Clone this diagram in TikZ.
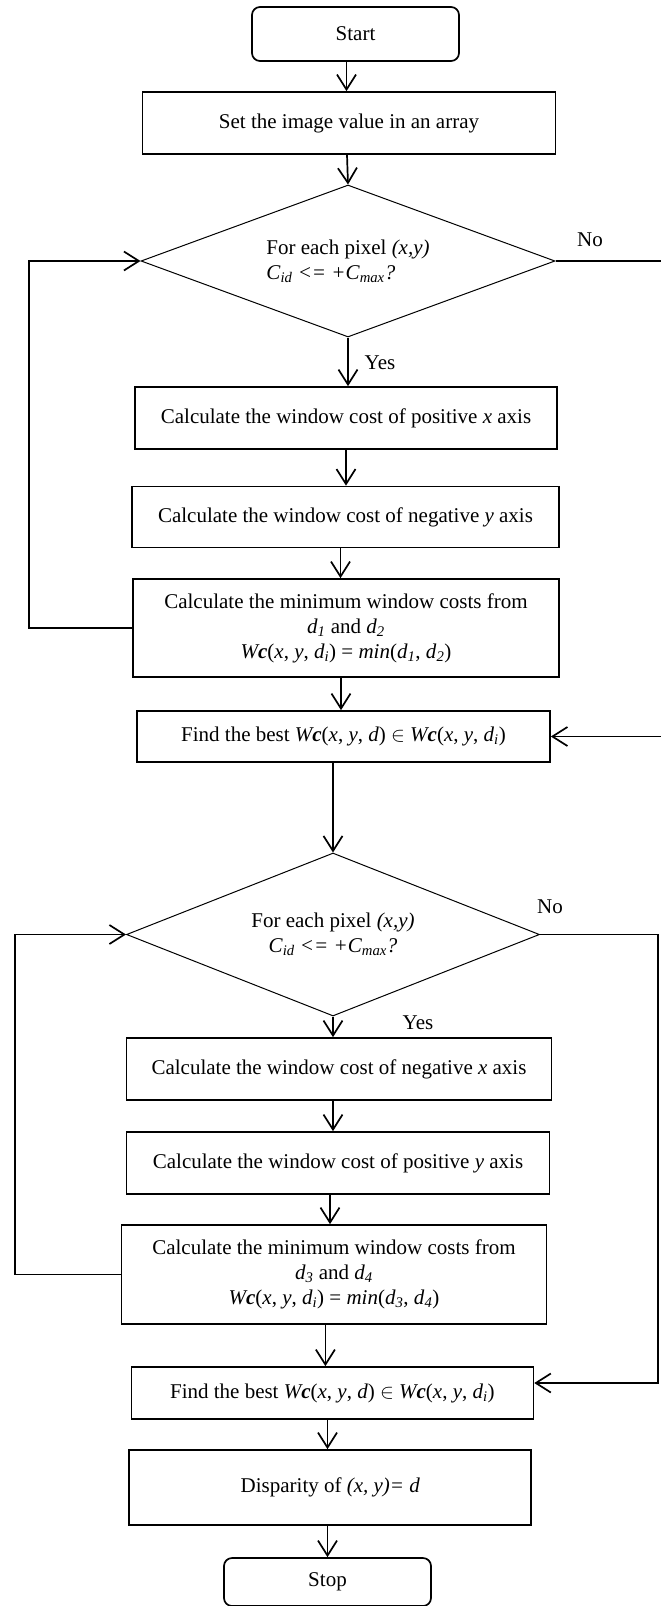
\documentclass[tikz,border=0pt]{standalone}
\usepackage{fontspec}
\setmainfont{Liberation Serif}
\usetikzlibrary{shapes.geometric,arrows.meta}

\begin{document}
\begin{tikzpicture}[
  x = 1pt,
  y = -1pt,
  font = \fontsize{21}{25}\selectfont,
  box/.style = {
    draw,
    rectangle,
    line width = 1.7pt,
    align = center,
    inner sep = 0pt,
  },
  term/.style = {
    box,
    rounded corners = 8pt,
  },
  decision/.style = {
    draw,
    diamond,
    line width = 1pt,
    aspect = 2.7,
    inner sep = 0pt,
  },
  line/.style = {line width = 1.7pt},
  >={Straight Barb[length=15pt,width=19pt]},
]

  \useasboundingbox (0,0) rectangle (661,1606);

  % first pass
  \node[term, minimum width=207pt, minimum height=54pt] (start) at (355.5,34) {Start};
  \node[box, minimum width=413pt, minimum height=62pt] (setarr) at (349,123) {Set the image value in an array};
  \node[decision, minimum width=414pt, minimum height=152pt, align=left] (dec1) at (348,261)
    {For each pixel \textit{(x,y)}\\\textit{C}\textsubscript{\textit{id}} \textit{<= +C}\textsubscript{\textit{max}}\textit{?}};
  \node (no1) at (590,240) {No};
  \node (yes1) at (380,363) {Yes};
  \node[box, minimum width=422pt, minimum height=62pt] (posx) at (346,418) {Calculate the window cost of positive \textit{x} axis};
  \node[box, minimum width=427pt, minimum height=61pt] (negy) at (345.5,517) {Calculate the window cost of negative \textit{y} axis};
  \node[box, minimum width=426pt, minimum height=98pt] (min1) at (346,628)
    {Calculate the minimum window costs from\\
     \textit{d}\textsubscript{\textit{1}} and \textit{d}\textsubscript{\textit{2}}\\
     \textit{W\textbf{c}}(\textit{x}, \textit{y}, \textit{d}\textsubscript{\textit{i}}) = \textit{min}(\textit{d}\textsubscript{\textit{1}}, \textit{d}\textsubscript{\textit{2}})};
  \node[box, minimum width=413pt, minimum height=51pt] (find1) at (343.5,736.5)
    {Find the best \textit{W\textbf{c}}(\textit{x}, \textit{y}, \textit{d}) $\in$ \textit{W\textbf{c}}(\textit{x}, \textit{y}, \textit{d}\textsubscript{\textit{i}})};

  % second pass
  \node[decision, minimum width=413pt, minimum height=163pt, align=center] (dec2) at (333,934.5)
    {For each pixel \textit{(x,y)}\\\textit{C}\textsubscript{\textit{id}} \textit{<= +C}\textsubscript{\textit{max}}\textit{?}};
  \node (no2) at (550,907) {No};
  \node (yes2) at (418,1023) {Yes};
  \node[box, minimum width=425pt, minimum height=62pt] (negx) at (339,1069) {Calculate the window cost of negative \textit{x} axis};
  \node[box, minimum width=423pt, minimum height=62pt] (posy) at (338,1163) {Calculate the window cost of positive \textit{y} axis};
  \node[box, minimum width=425pt, minimum height=99pt] (min2) at (334,1274.5)
    {Calculate the minimum window costs from\\
     \textit{d}\textsubscript{\textit{3}} and \textit{d}\textsubscript{\textit{4}}\\
     \textit{W\textbf{c}}(\textit{x}, \textit{y}, \textit{d}\textsubscript{\textit{i}}) = \textit{min}(\textit{d}\textsubscript{\textit{3}}, \textit{d}\textsubscript{\textit{4}})};
  \node[box, minimum width=402pt, minimum height=52pt] (find2) at (332.4,1393)
    {Find the best \textit{W\textbf{c}}(\textit{x}, \textit{y}, \textit{d}) $\in$ \textit{W\textbf{c}}(\textit{x}, \textit{y}, \textit{d}\textsubscript{\textit{i}})};
  \node[box, minimum width=402pt, minimum height=75pt] (disp) at (330.3,1487.5) {Disparity of \textit{(x, y)= d}};
  \node[term, minimum width=207pt, minimum height=48pt] (stop) at (327.5,1582) {Stop};

  \coordinate (loop1) at (28.7,628);
  \coordinate (ret1) at (663,261);
  \coordinate (loop2) at (14.8,1274.5);
  \coordinate (ret2) at (657.7,934.5);

  % straight flow
  \draw[->, line] ([xshift=-9pt]start.south) -- ([xshift=-9pt]start.south |- setarr.north);
  \draw[->, line] ([xshift=-2pt]setarr.south) -- (dec1.north);
  \draw[->, line] (dec1.south) -- (dec1.south |- posx.north);
  \draw[->, line] (posx.south) -- (posx.south |- negy.north);
  \draw[->, line] ([xshift=-5pt]negy.south) -- ([xshift=-5pt]negy.south |- min1.north);
  \draw[->, line] ([xshift=-5pt]min1.south) -- ([xshift=-5pt]min1.south |- find1.north);
  \draw[->, line] (dec2.north |- find1.south) -- (dec2.north);
  \draw[->, line] (dec2.south) -- (dec2.south |- negx.north);
  \draw[->, line] (dec2.south |- negx.south) -- (dec2.south |- posy.north);
  \draw[->, line] ([xshift=-4pt]min2.north |- posy.south) -- ([xshift=-4pt]min2.north);
  \draw[->, line] ([xshift=-7pt]find2.north |- min2.south) -- ([xshift=-7pt]find2.north);
  \draw[->, line] (stop.north |- find2.south) -- (stop.north |- disp.north);
  \draw[->, line] (stop.north |- disp.south) -- (stop.north);

  % loops
  \draw[->, line] (min1.west) -- (loop1) |- (dec1.west);
  \draw[->, line] (dec1.east) -- (ret1) |- (find1.east);
  \draw[->, line] (min2.west) -- (loop2) |- (dec2.west);
  \draw[->, line] (dec2.east) -- (ret2) |- ([yshift=10pt]find2.east);

\end{tikzpicture}
\end{document}
